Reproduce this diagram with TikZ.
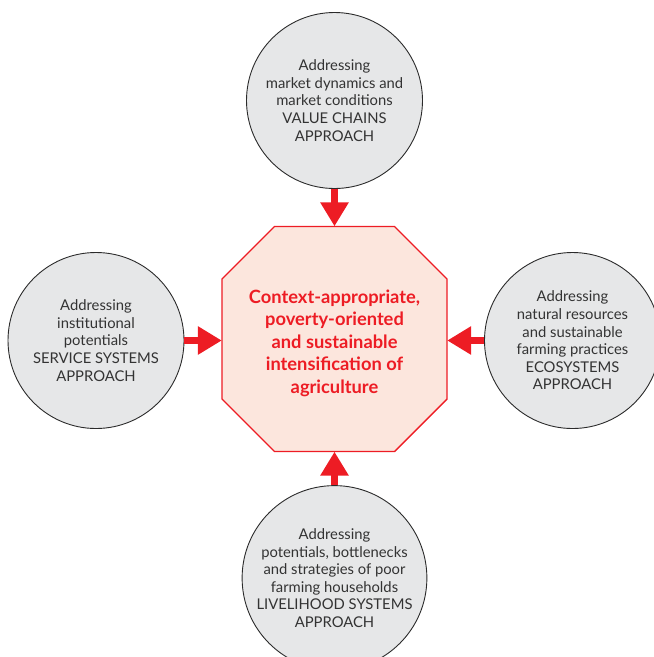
\documentclass[tikz,border=0pt]{standalone}
\usepackage{fontspec}
\setmainfont{Lato}
\usetikzlibrary{arrows.meta,calc}
\definecolor{circfill}{HTML}{E6E7E8}
\definecolor{circline}{HTML}{2B2B2B}
\definecolor{txtgray}{HTML}{333333}
\definecolor{goalred}{HTML}{ED1C24}
\definecolor{goalfill}{HTML}{FCE6DD}
\tikzset{
  approach/.style={circle, draw=circline, fill=circfill, line width=0.9pt,
    minimum size=176pt, inner sep=0pt, align=center, text=txtgray,
    font=\fontsize{14.8}{17.6}\selectfont},
  goalbox/.style={minimum width=225pt, minimum height=225pt, inner sep=0pt},
  goaltext/.style={align=center, text=goalred, inner sep=0pt,
    font=\bfseries\fontsize{18.3}{22.5}\selectfont},
  octagon/.style={draw=goalred, fill=goalfill, line width=1.4pt, line join=miter},
  feed/.style={draw=goalred, line width=7pt,
    -{Triangle[length=24pt,width=27pt]}, color=goalred},
}
\begin{document}
\begin{tikzpicture}[x=1pt,y=-1pt]
\useasboundingbox (0,0) rectangle (654,657);
\clip (0,0) rectangle (654,657);

% central goal: octagon drawn around an invisible square node
\coordinate (gc) at (334.5,339);
\path[octagon]
  ($(gc)+(-60,-112.5)$) -- ($(gc)+(60,-112.5)$) -- ($(gc)+(112.5,-60)$) --
  ($(gc)+(112.5,60)$) -- ($(gc)+(60,112.5)$) -- ($(gc)+(-60,112.5)$) --
  ($(gc)+(-112.5,60)$) -- ($(gc)+(-112.5,-60)$) -- cycle;
\node[goalbox] (goal) at (gc) {};
\node[goaltext] (goallabel) at ($(gc)+(0,4)$)
  {Context-appropriate,\\poverty-oriented\\and sustainable\\intensification of\\agriculture};

% the four approaches
\node[approach] (vc) at (334.5,100.5) {Addressing\\market dynamics and\\market conditions\\VALUE CHAINS\\APPROACH};
\node[approach] (ss) at (96,340.5) {Addressing\\institutional\\potentials\\SERVICE SYSTEMS\\APPROACH};
\node[approach] (eco) at (572.5,340.5) {Addressing\\natural resources\\and sustainable\\farming practices\\ECOSYSTEMS\\APPROACH};
\node[approach] (lh) at (334.5,578) {Addressing\\potentials, bottlenecks\\and strategies of poor\\farming households\\LIVELIHOOD SYSTEMS\\APPROACH};

% arrows into the goal
\draw[feed] (vc.south) -- (goal.north);
\draw[feed] (ss.east) -- (ss.east -| goal.west);
\draw[feed] (eco.west) -- (eco.west -| goal.east);
\draw[feed] (lh.north) -- (goal.south);
\end{tikzpicture}
\end{document}
